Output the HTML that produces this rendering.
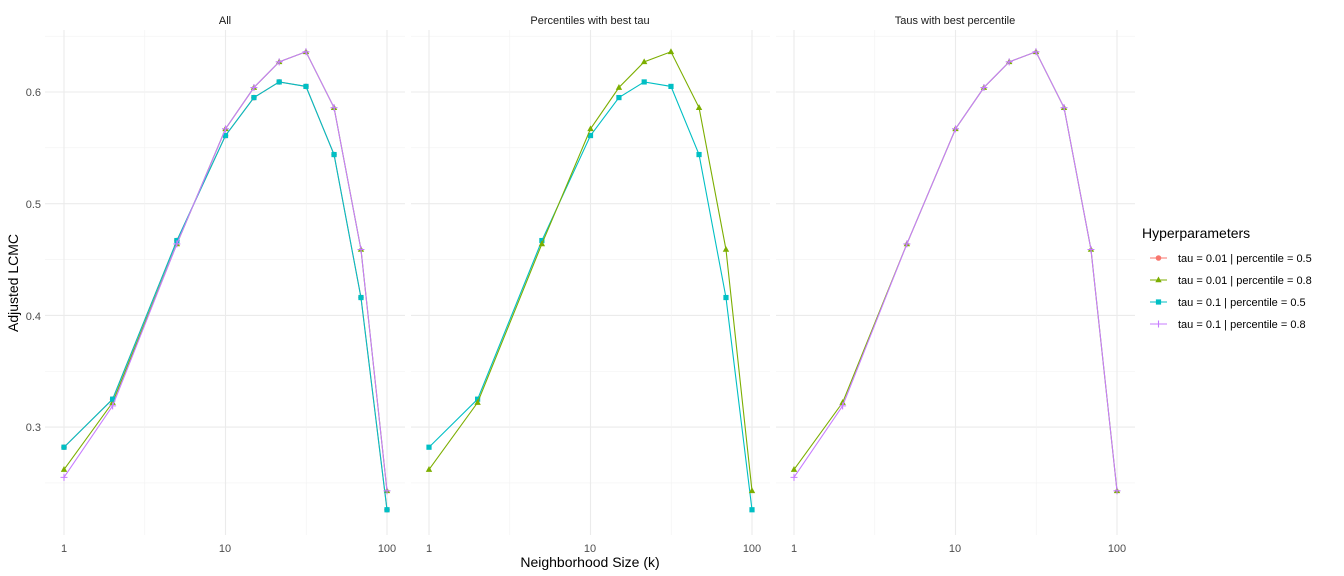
<!DOCTYPE html>
<html><head><meta charset="utf-8"><style>
html,body{margin:0;padding:0;background:#fff;}
svg{display:block;font-family:"Liberation Sans",sans-serif;}
</style></head><body>
<svg id="s" width="1344" height="576" xmlns="http://www.w3.org/2000/svg">
<g id="grid"></g>
<g id="data"></g>
<g font-size="11" fill="#4d4d4d" text-anchor="end">
<text x="41" y="96">0.6</text><text x="41" y="208">0.5</text><text x="41" y="320">0.4</text><text x="41" y="431">0.3</text>
</g>
<g font-size="11" fill="#4d4d4d" text-anchor="middle">
<text x="64" y="552">1</text><text x="225" y="552">10</text><text x="387" y="552">100</text>
<text x="429" y="552">1</text><text x="590" y="552">10</text><text x="752" y="552">100</text>
<text x="794" y="552">1</text><text x="955" y="552">10</text><text x="1117" y="552">100</text>
</g>
<g font-size="11" fill="#1a1a1a" text-anchor="middle">
<text x="225" y="24">All</text><text x="590" y="24">Percentiles with best tau</text><text x="955" y="24">Taus with best percentile</text>
</g>
<text x="590" y="567" font-size="14" text-anchor="middle" fill="#000">Neighborhood Size (k)</text>
<text transform="translate(18,283) rotate(-90)" font-size="14" text-anchor="middle" fill="#000">Adjusted LCMC</text>
<text x="1142" y="238" font-size="14" fill="#000">Hyperparameters</text>
<g font-size="11" fill="#000">
<text x="1178" y="262">tau = 0.01 | percentile = 0.5</text>
<text x="1178" y="284">tau = 0.01 | percentile = 0.8</text>
<text x="1178" y="306">tau = 0.1 | percentile = 0.5</text>
<text x="1178" y="328">tau = 0.1 | percentile = 0.8</text>
</g>
<g id="leg"></g>
</svg>
<script>
const NS="http://www.w3.org/2000/svg";
function el(p,t,a){const e=document.createElementNS(NS,t);for(const k in a)e.setAttribute(k,a[k]);p.appendChild(e);return e;}
const grid=document.getElementById('grid'),data=document.getElementById('data'),leg=document.getElementById('leg');
const panels=[[45,405,64],[411,770,429],[776,1135,794]];
const Y=v=>92+(0.6-v)*1117;
const ks=[1,2,5,10,15,21.5,31.5,47,69,100];
const C={r:'#F8766D',g:'#7CAE00',t:'#00BFC4',p:'#C77CFF'};
const vals={
g:[0.262,0.322,0.464,0.567,0.604,0.627,0.636,0.586,0.459,0.243],
p:[0.255,0.319,0.464,0.567,0.604,0.627,0.636,0.586,0.459,0.243],
t:[0.282,0.325,0.467,0.561,0.595,0.609,0.605,0.544,0.416,0.226],
r:[0.282,0.325,0.467,0.561,0.595,0.609,0.605,0.544,0.416,0.226]};
function marker(g,s,x,y){const c=C[s];
if(s=='r')el(g,'circle',{cx:x,cy:y,r:2.8,fill:c});
else if(s=='g')el(g,'polygon',{points:`${x},${y-3.5} ${x+3.2},${y+2.3} ${x-3.2},${y+2.3}`,fill:c});
else if(s=='t')el(g,'rect',{x:x-2.6,y:y-2.6,width:5.2,height:5.2,fill:c});
else{el(g,'path',{d:`M${x-3.5},${y}H${x+3.5}M${x},${y-3.5}V${y+3.5}`,stroke:c,'stroke-width':1.1});}}
const sets=[['r','g','t','p'],['t','g'],['g','p']];
panels.forEach(([x0,x1,o],i)=>{
 for(let v=0.25;v<0.66;v+=0.1)el(grid,'line',{x1:x0,x2:x1,y1:Y(v),y2:Y(v),stroke:'#f2f2f2','stroke-width':0.6});
 for(let v=0.3;v<0.65;v+=0.1)el(grid,'line',{x1:x0,x2:x1,y1:Y(v),y2:Y(v),stroke:'#ebebeb','stroke-width':1.1});
 for(const d of [0.5,1.5])el(grid,'line',{x1:o+d*161.5,x2:o+d*161.5,y1:30,y2:535,stroke:'#f2f2f2','stroke-width':0.6});
 for(const d of [0,1,2])el(grid,'line',{x1:o+d*161.5,x2:o+d*161.5,y1:30,y2:535,stroke:'#ebebeb','stroke-width':1.1});
 const X=k=>o+Math.log10(k)*161.5;
 sets[i].forEach(s=>{const g=el(data,'g',{});
  el(g,'polyline',{points:ks.map((k,j)=>X(k)+','+Y(vals[s][j])).join(' '),fill:'none',stroke:C[s],'stroke-width':1.1});
  ks.forEach((k,j)=>marker(g,s,X(k),Y(vals[s][j])));});
});
['r','g','t','p'].forEach((s,i)=>{const y=258+22*i;el(leg,'line',{x1:1150,x2:1167,y1:y,y2:y,stroke:C[s],'stroke-width':1.1});marker(leg,s,1158.5,y);});
</script>
</body></html>
